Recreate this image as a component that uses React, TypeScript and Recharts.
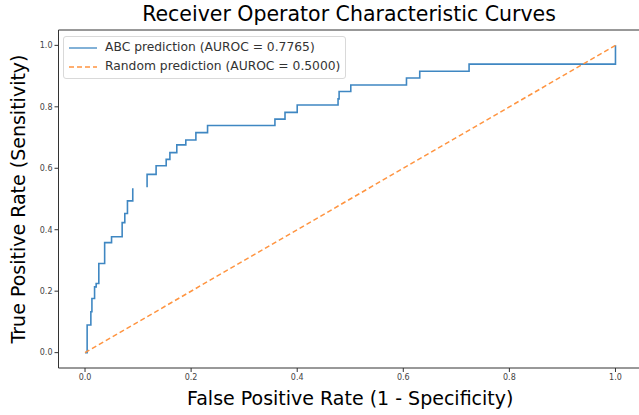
import { LineChart, Line, XAxis, YAxis, Legend, ReferenceLine, Label } from 'recharts'

// ROC curve vertices (null = gap in the drawn line)
const rocFpr = [
  0, 0.004, 0.004, 0.011, 0.011, 0.013, 0.013, 0.018, 0.018, 0.021, 0.021, 0.026, 0.026, 0.037, 0.037,
  0.05, 0.05, 0.07, 0.07, 0.075, 0.075, 0.08, 0.08, 0.09, 0.09,
  0.1,
  0.117, 0.117, 0.134, 0.134, 0.153, 0.153, 0.16, 0.16, 0.173, 0.173, 0.19, 0.19, 0.209, 0.209, 0.231, 0.231,
  0.358, 0.358, 0.377, 0.377, 0.4, 0.4, 0.477, 0.477, 0.479, 0.479, 0.501, 0.501, 0.606, 0.606, 0.631, 0.631,
  0.724, 0.724, 1.0, 1.0,
]
const rocTpr = [
  0, 0, 0.09, 0.09, 0.133, 0.133, 0.176, 0.176, 0.214, 0.214, 0.225, 0.225, 0.29, 0.29, 0.358,
  0.358, 0.377, 0.377, 0.423, 0.423, 0.453, 0.453, 0.494, 0.494, 0.535,
  null,
  0.538, 0.58, 0.58, 0.608, 0.608, 0.629, 0.629, 0.651, 0.651, 0.676, 0.676, 0.692, 0.692, 0.716, 0.716, 0.739,
  0.739, 0.76, 0.76, 0.782, 0.782, 0.806, 0.806, 0.826, 0.826, 0.85, 0.85, 0.871, 0.871, 0.894, 0.894, 0.916,
  0.916, 0.939, 0.939, 1.0,
]
const chanceFpr = [0, 1]
const chanceTpr = [0, 1]
const axisTicks = [0, 0.2, 0.4, 0.6, 0.8, 1.0]
const seriesNames = ['ABC prediction (AUROC = 0.7765)', 'Random prediction (AUROC = 0.5000)']

const rocData = rocFpr.map((x, i) => ({ fpr: x, tpr: rocTpr[i] }))
const chanceData = chanceFpr.map((x, i) => ({ fpr: x, tpr: chanceTpr[i] }))

const font = '"DejaVu Sans", sans-serif'
const blue = '#3f87c2'
const orange = '#ff9440'

function YTitle({ viewBox }: any) {
  const cx = 18
  const cy = viewBox.y + viewBox.height / 2
  return (
    <text x={cx} y={cy} transform={`rotate(-90 ${cx} ${cy})`} textAnchor="middle" dominantBaseline="central"
      fontFamily={font} fontSize={19} fill="#000">
      True Positive Rate (Sensitivity)
    </text>
  )
}

function LegendBox({ payload }: any) {
  return (
    <div style={{ border: '1px solid #d9d9d9', borderRadius: 3, background: 'rgba(255,255,255,0.85)',
      padding: '1px 5px 2px 5px', fontFamily: font, fontSize: 12.3, color: '#333', lineHeight: '19px' }}>
      {(payload || []).map((p: any) => (
        <div key={p.value} style={{ display: 'flex', alignItems: 'center' }}>
          <svg width={28} height={10}>
            <line x1={0} y1={5} x2={28} y2={5} stroke={p.color} strokeWidth={1.3}
              strokeDasharray={p.payload?.strokeDasharray} />
          </svg>
          <span style={{ marginLeft: 8 }}>{p.value}</span>
        </div>
      ))}
    </div>
  )
}

export default function App() {
  return (
    <div style={{ position: 'fixed', left: 0, top: 0, width: 639, height: 415, overflow: 'hidden', background: '#fff' }}>
      <div style={{ position: 'absolute', left: 0, top: 2, width: 698, textAlign: 'center', fontFamily: font,
        fontSize: 20.5, color: '#000' }}>
        Receiver Operator Characteristic Curves
      </div>
      <LineChart width={650} height={415} margin={{ top: 30, right: 8, bottom: 0, left: 0 }}>
        <XAxis type="number" dataKey="fpr" domain={[-0.05, 1.05]} ticks={axisTicks} allowDataOverflow
          height={47} tickSize={4} stroke="#333" tickFormatter={(v: number) => v.toFixed(1)}
          tick={{ fontSize: 8, fill: '#444', fontFamily: font }}>
          <Label value="False Positive Rate (1 - Specificity)" position="insideBottom" offset={10}
            style={{ fontSize: 19, fontFamily: font, fill: '#000' }} />
        </XAxis>
        <YAxis type="number" domain={[-0.05, 1.05]} ticks={axisTicks} allowDataOverflow width={58.5}
          tickSize={4} stroke="#333" tickFormatter={(v: number) => v.toFixed(1)}
          tick={{ fontSize: 8, fill: '#444', fontFamily: font }}>
          <Label content={<YTitle />} />
        </YAxis>
        <ReferenceLine y={1.05} stroke="#333" ifOverflow="extendDomain" />
        <Legend content={<LegendBox />} layout="horizontal" verticalAlign="middle" align="center"
          wrapperStyle={{ left: 63, top: 36, width: 'auto', bottom: 'auto' }} />
        <Line data={rocData} dataKey="tpr" name={seriesNames[0]} stroke={blue} strokeWidth={1.6} dot={false}
          activeDot={false} connectNulls={false} isAnimationActive={false} />
        <Line data={chanceData} dataKey="tpr" name={seriesNames[1]} stroke={orange} strokeWidth={1.5}
          strokeDasharray="5 3" dot={false} activeDot={false} isAnimationActive={false} />
      </LineChart>
    </div>
  )
}
